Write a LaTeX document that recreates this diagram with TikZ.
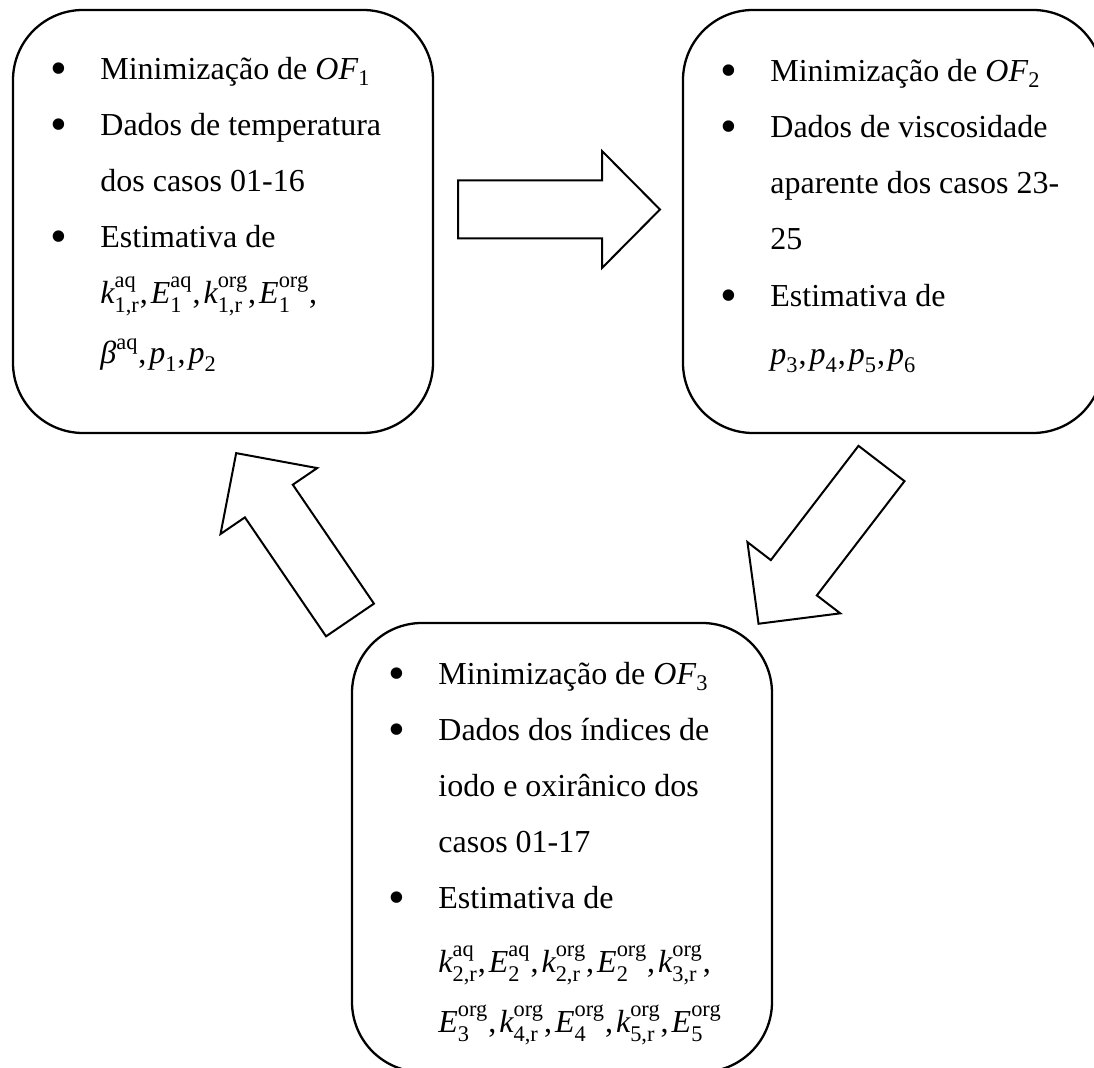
\documentclass[tikz,border=0pt]{standalone}
\usepackage{amsmath}
\usepackage{fontspec}
\setmainfont{Liberation Serif}
\tikzset{>=latex}
\tikzset{procbox/.style={draw, line width=1.15pt, rounded corners=35pt, minimum width=210pt, minimum height=211.5pt, inner sep=0pt}}
\tikzset{itemlist/.style={anchor=base west, inner sep=0pt, font=\fontsize{16}{28}\selectfont}}
\tikzset{blockarrow/.style={draw, line width=1pt, fill=white}}
\newcommand{\coef}[3]{\textit{#1}^{\text{#2}}_{\text{#3}}}
\newcommand{\pp}[1]{\textit{p}_{\text{#1}}}
\newcommand{\sep}{,\hspace{1.5pt}}
\newcommand{\bul}{\raisebox{-2.25pt}{\scalebox{1.5}{\textbullet}}}
\newcommand{\blockArrow}[2]{
	\draw[blockarrow, shift={#1}, rotate=#2](0, -29)--(144, -29)--(144, -58.5)--(202, 0)--(144, 58.5)--(144, 29)--(0, 29)--cycle
}

\begin{document}
\begin{tikzpicture}[x=0.5pt, y=-0.5pt]
    \useasboundingbox(0, 0) rectangle (1094, 1068);
    \clip(0, 0) rectangle (1094, 1068);
    \node[procbox](of1) at (223, 221.5){};
    \node[procbox](of2) at (893, 221.5){};
    \node[procbox, minimum height=224.5pt](of3) at (562, 847.5){};
    \node[itemlist](of1list) at (50, 80){\begin{tabular}[t]{@{}p{25pt}@{}l@{}}
        \bul & Minimização de \textit{OF}\textsubscript{1}\\
        \bul & Dados de temperatura\\
             & dos casos 01-16\\
        \bul & Estimativa de\\
             & $\coef{k}{aq}{1,r}$\sep$\coef{E}{aq}{1}$\sep$\coef{k}{org}{1,r}$\sep$\coef{E}{org}{1}$,\\[2pt]
             & $\textit{β}^{\text{aq}}$\sep$\pp{1}$\sep$\pp{2}$
    \end{tabular}};
    \node[itemlist](of2list) at (720, 82){\begin{tabular}[t]{@{}p{25pt}@{}l@{}}
        \bul & Minimização de \textit{OF}\textsubscript{2}\\
        \bul & Dados de viscosidade\\
             & aparente dos casos 23-\\
             & 25\\[0.5pt]
        \bul & Estimativa de\\[1pt]
             & $\pp{3}$\sep$\pp{4}$\sep$\pp{5}$\sep$\pp{6}$
    \end{tabular}};
    \node[itemlist](of3list) at (388, 685){\begin{tabular}[t]{@{}p{25pt}@{}l@{}}
        \bul & Minimização de \textit{OF}\textsubscript{3}\\
        \bul & Dados dos índices de\\
             & iodo e oxirânico dos\\
             & casos 01-17\\
        \bul & Estimativa de\\[4pt]
             & $\coef{k}{aq}{2,r}$\sep$\coef{E}{aq}{2}$\sep$\coef{k}{org}{2,r}$\sep$\coef{E}{org}{2}$\sep$\coef{k}{org}{3,r}$,\\[2pt]
             & $\coef{E}{org}{3}$\sep$\coef{k}{org}{4,r}$\sep$\coef{E}{org}{4}$\sep$\coef{k}{org}{5,r}$\sep$\coef{E}{org}{5}$
    \end{tabular}};
    \blockArrow{(458, 209.5)}{0};
    \blockArrow{(881.5, 463.5)}{232.5};
    \blockArrow{(350, 620)}{124.3};
\end{tikzpicture}
\end{document}
